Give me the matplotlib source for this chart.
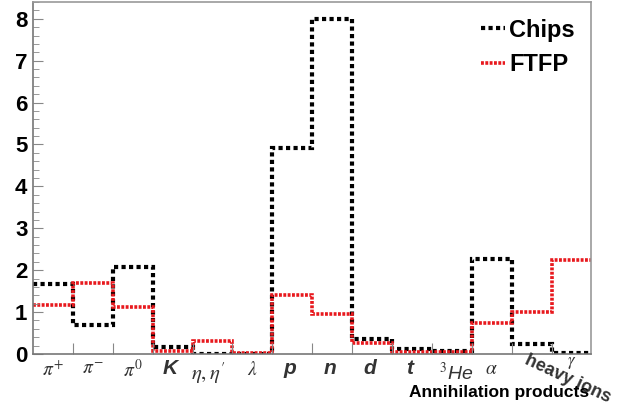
import numpy as np
import matplotlib.pyplot as plt
from matplotlib.transforms import blended_transform_factory

# annihilation products, one bin each
products = [r'$\pi^{+}$', r'$\pi^{-}$', r'$\pi^{0}$', 'K', r"$\eta,\eta'$", r'$\lambda$',
            'p', 'n', 'd', 't', r'$^{3}$He', r'$\alpha$', 'heavy ions', r'$\gamma$']
chips = [1.67, 0.68, 2.08, 0.17, 0.01, 0.01, 4.92, 8.0, 0.35, 0.11, 0.06, 2.26, 0.23, 0.03]
ftfp = [1.16, 1.69, 1.13, 0.06, 0.32, 0.02, 1.41, 0.95, 0.27, 0.04, 0.05, 0.73, 0.99, 2.24]

plt.rcParams['font.family'] = ['Liberation Sans', 'DejaVu Sans']
plt.rcParams['mathtext.fontset'] = 'stix'

fig = plt.figure(figsize=(6.17, 4.05), dpi=100)
ax = fig.add_axes([0.0535, 0.126, 0.905, 0.869])

edges = np.arange(len(products) + 1)
ax.stairs(chips, edges, color='black', lw=3, ls=(0, (1, 0.8)), label='Chips', baseline=None)
ax.stairs(ftfp, edges, color='#e8191e', lw=2.6, ls=(0, (0.8, 0.4)), label='FTFP', baseline=None)

ax.set_xlim(0, len(products))
ax.set_ylim(0, 8.4)

for s in ax.spines.values():
    s.set_color('#999999')
    s.set_linewidth(1.2)
ax.spines['left'].set_color('#777777')
ax.spines['bottom'].set_color('#777777')

ax.set_yticks(range(0, 9), labels=[str(v) for v in range(0, 9)],
              fontweight='bold', fontsize=16)
ax.set_yticks(np.arange(0, 8.41, 0.2), minor=True)
ax.tick_params(axis='y', which='major', direction='in', length=7, color='#888888', pad=4)
ax.tick_params(axis='y', which='minor', direction='in', length=4, color='#888888')

ax.set_xticks(edges[1:-1])
ax.set_xticklabels([])
ax.tick_params(axis='x', which='major', direction='in', length=8, color='#888888')
ax.tick_params(axis='x', which='minor', bottom=False)

trans = blended_transform_factory(ax.transData, ax.transAxes)
for i, lab in enumerate(products):
    x = i + 0.5
    kw = dict(ha='center', va='center', transform=trans, color='#333333')
    if lab in ('K', 'p', 'n', 'd', 't'):
        ax.text(x - 0.05, -0.04, lab, fontsize=15, fontweight='bold', style='italic', **kw)
    elif lab == 'heavy ions':
        ax.text(x + 0.9, -0.07, lab, fontsize=13, fontweight='bold', rotation=-25, **kw)
    elif lab == r"$\eta,\eta'$":
        ax.text(x - 0.1, -0.055, lab, fontsize=15, **kw)
    elif lab == r'$^{3}$He':
        ax.text(x + 0.1, -0.055, lab, fontsize=14, style='italic', **kw)
    elif lab == r'$\gamma$':
        ax.text(x, -0.025, lab, fontsize=12, **kw)
    else:
        ax.text(x, -0.045, lab, fontsize=14, **kw)

fig.text(0.955, 0.03, 'Annihilation products', ha='right', va='center',
         fontsize=12.5, fontweight='bold')

ax.legend(loc='upper right', frameon=False, prop={'size': 17, 'weight': 'bold'},
          handlelength=1.0, handletextpad=0.2, labelspacing=0.5, borderaxespad=0.3)

fig.savefig('out.png', dpi=100)
